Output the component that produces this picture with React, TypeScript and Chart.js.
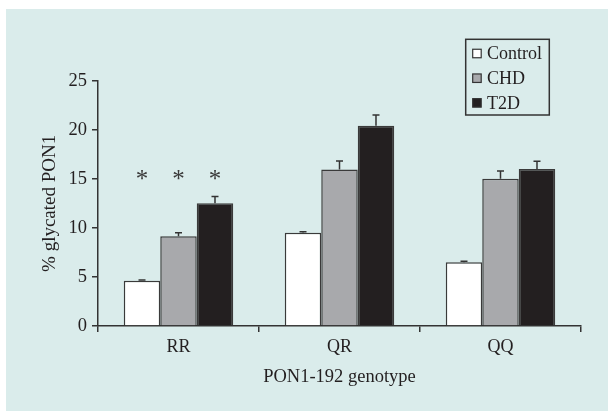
import React, { useEffect, useRef } from "react";
import { Chart, registerables } from "chart.js";

Chart.register(...registerables);

const categories = ["RR", "QR", "QQ"];
const seriesNames = ["Control", "CHD", "T2D"];
const controlValues = [4.6, 9.5, 6.5];
const chdValues = [9.15, 15.95, 15.0];
const t2dValues = [12.5, 20.4, 16.0];
const controlErrors = [0.1, 0.1, 0.1];
const chdErrors = [0.36, 0.87, 0.8];
const t2dErrors = [0.7, 1.1, 0.8];
// significance markers per category, per series
const significance = [
  ["*", "*", "*"],
  ["", "", ""],
  ["", "", ""],
];
const yMin = 0;
const yMax = 25;
const yStep = 5;
const xTitle = "PON1-192 genotype";
const yTitle = "% glycated PON1";

const FONT = "'Liberation Serif', 'Times New Roman', serif";
const TEXT = "#231f20";
const LINE = "#333333";
const fills = ["#ffffff", "#a8a9ac", "#231f20"];
const allValues = [controlValues, chdValues, t2dValues];
const allErrors = [controlErrors, chdErrors, t2dErrors];
const ASTERISK_LEVEL = 15.25;

const errorBarPlugin = {
  id: "errorBars",
  afterDatasetsDraw(chart: any) {
    const { ctx } = chart;
    const yScale = chart.scales.y;
    ctx.save();
    ctx.strokeStyle = LINE;
    ctx.lineWidth = 1.5;
    chart.data.datasets.forEach((ds: any, d: number) => {
      const meta = chart.getDatasetMeta(d);
      meta.data.forEach((bar: any, i: number) => {
        const v = allValues[d][i];
        const e = allErrors[d][i];
        const y0 = yScale.getPixelForValue(v);
        const y1 = yScale.getPixelForValue(v + e);
        ctx.beginPath();
        ctx.moveTo(bar.x, y0);
        ctx.lineTo(bar.x, y1);
        ctx.moveTo(bar.x - 3.5, y1);
        ctx.lineTo(bar.x + 3.5, y1);
        ctx.stroke();
        const mark = significance[i][d];
        if (mark) {
          ctx.fillStyle = "#3a3a3a";
          ctx.font = `25px ${FONT}`;
          ctx.textAlign = "center";
          ctx.textBaseline = "alphabetic";
          const ya = yScale.getPixelForValue(ASTERISK_LEVEL);
          ctx.fillText(mark, bar.x, ya + 11);
        }
      });
    });
    ctx.restore();
  },
};

const legendPlugin = {
  id: "boxLegend",
  afterDraw(chart: any) {
    const { ctx } = chart;
    ctx.save();
    ctx.strokeStyle = LINE;
    ctx.lineWidth = 1.5;
    ctx.strokeRect(465.7, 39.3, 83.6, 75.7);
    ctx.font = `18px ${FONT}`;
    ctx.textBaseline = "middle";
    ctx.textAlign = "left";
    seriesNames.forEach((name, i) => {
      const cy = 53.5 + i * 24.7;
      ctx.fillStyle = fills[i];
      ctx.fillRect(472.7, cy - 4.25, 8.5, 8.5);
      ctx.lineWidth = 1.2;
      ctx.strokeStyle = LINE;
      ctx.strokeRect(472.7, cy - 4.25, 8.5, 8.5);
      ctx.fillStyle = TEXT;
      ctx.fillText(name, 487, cy + 1);
    });
    ctx.restore();
  },
};

export default function App() {
  const ref = useRef<HTMLCanvasElement>(null);
  useEffect(() => {
    if (!ref.current) return;
    const chart = new Chart(ref.current, {
      type: "bar",
      data: {
        labels: categories,
        datasets: seriesNames.map((name, d) => ({
          label: name,
          data: allValues[d],
          backgroundColor: fills[d],
          borderColor: "#3a3a3a",
          borderWidth: 1.5,
          categoryPercentage: 0.68,
          barPercentage: 1.0,
        })),
      },
      options: {
        responsive: false,
        animation: false,
        layout: { padding: { top: 80.7, right: 27, left: 0, bottom: 0 } },
        plugins: {
          legend: { display: false },
          tooltip: { enabled: false },
        },
        scales: {
          x: {
            afterFit(scale: any) {
              scale.height = 85;
            },
            grid: {
              display: true,
              drawOnChartArea: false,
              drawTicks: true,
              tickLength: 6,
              color: LINE,
              lineWidth: 1.5,
            },
            border: { display: true, color: LINE, width: 1.5 },
            ticks: {
              color: TEXT,
              font: { family: FONT, size: 18 },
              padding: 4,
            },
            title: {
              display: true,
              text: xTitle,
              color: TEXT,
              font: { family: FONT, size: 18.5 },
              padding: { top: 0, bottom: 23 },
            },
          },
          y: {
            min: yMin,
            max: yMax,
            afterFit(scale: any) {
              scale.width = 98;
            },
            grid: {
              display: true,
              drawOnChartArea: false,
              drawTicks: true,
              tickLength: 6,
              color: LINE,
              lineWidth: 1.5,
            },
            border: { display: true, color: LINE, width: 1.5 },
            ticks: {
              stepSize: yStep,
              color: TEXT,
              font: { family: FONT, size: 18.5 },
              padding: 5,
            },
            title: {
              display: true,
              text: yTitle,
              color: TEXT,
              font: { family: FONT, size: 19 },
              padding: { top: 39, bottom: 0 },
            },
          },
        },
      },
      plugins: [errorBarPlugin, legendPlugin],
    });
    return () => chart.destroy();
  }, []);

  return (
    <div
      style={{
        position: "fixed",
        left: 0,
        top: 0,
        width: 608,
        height: 411,
        background: "#ffffff",
      }}
    >
      <div
        style={{
          position: "absolute",
          left: 6,
          top: 9,
          width: 602,
          height: 402,
          background: "#daeceb",
        }}
      />
      <canvas
        ref={ref}
        width={608}
        height={411}
        style={{ position: "absolute", left: 0, top: 0, width: 608, height: 411 }}
      />
    </div>
  );
}
